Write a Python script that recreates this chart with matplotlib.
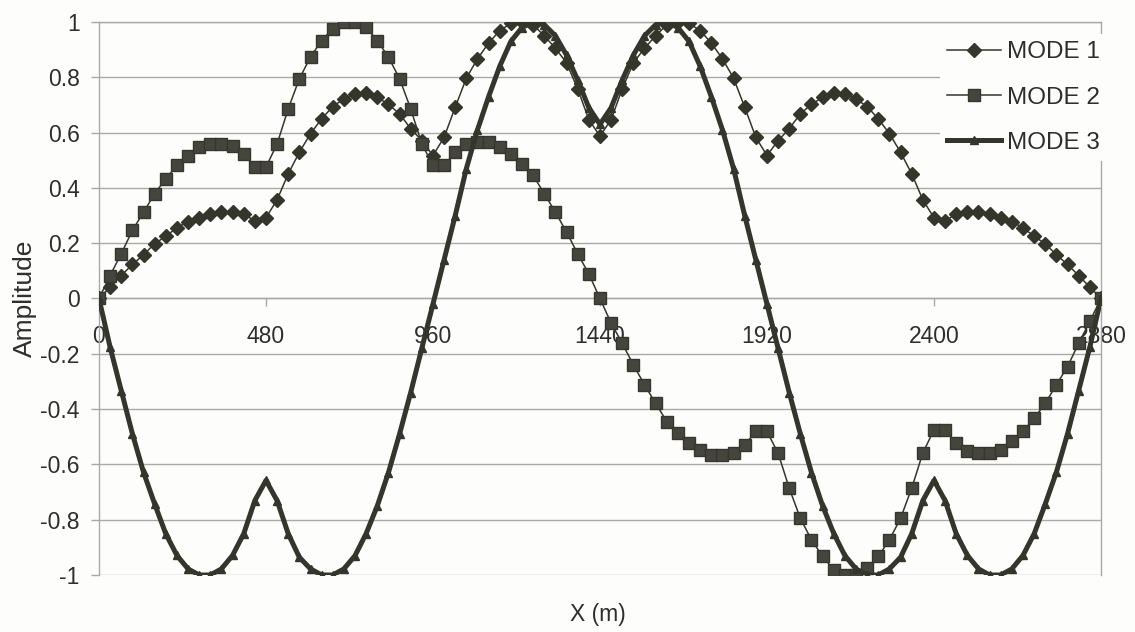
import numpy as np
import matplotlib.pyplot as plt

plt.rcParams['font.family'] = ['Liberation Sans', 'DejaVu Sans']

# stations along the deck, every 32 m
x_m = np.arange(0, 2881, 32)

mode1 = [0, 0.041, 0.083, 0.123, 0.158, 0.198, 0.225, 0.256, 0.278, 0.292,
         0.306, 0.312, 0.312, 0.306, 0.280, 0.292, 0.357, 0.451, 0.529, 0.596,
         0.650, 0.694, 0.722, 0.740, 0.743, 0.728, 0.702, 0.668, 0.614, 0.571,
         0.517, 0.583, 0.692, 0.797, 0.867, 0.924, 0.969, 0.995, 1.0, 0.99,
         0.95, 0.905, 0.852, 0.758, 0.647, 0.587,
         0.647, 0.758, 0.852, 0.905, 0.95, 0.99, 1.0, 0.995, 0.969, 0.924,
         0.867, 0.797, 0.692, 0.583, 0.517, 0.571, 0.614, 0.668, 0.702, 0.728,
         0.743, 0.740, 0.722, 0.694, 0.650, 0.596, 0.529, 0.451, 0.357, 0.292,
         0.280, 0.306, 0.312, 0.312, 0.306, 0.292, 0.278, 0.256, 0.225, 0.198,
         0.158, 0.123, 0.083, 0.041, 0]

mode2 = [0, 0.083, 0.162, 0.246, 0.312, 0.379, 0.433, 0.481, 0.517, 0.547,
         0.559, 0.560, 0.553, 0.523, 0.475, 0.475, 0.559, 0.686, 0.795, 0.873,
         0.933, 0.976, 1.0, 1.0, 0.981, 0.933, 0.873, 0.795, 0.686, 0.559,
         0.481, 0.481, 0.529, 0.559, 0.565, 0.565, 0.547, 0.523, 0.487, 0.445,
         0.379, 0.312, 0.240, 0.162, 0.089, 0.0,
         -0.089, -0.162, -0.240, -0.312, -0.379, -0.445, -0.487, -0.523, -0.547, -0.565,
         -0.565, -0.559, -0.529, -0.481, -0.481, -0.559, -0.686, -0.795, -0.873, -0.933,
         -0.981, -1.0, -1.0, -0.976, -0.933, -0.873, -0.795, -0.686, -0.559, -0.475,
         -0.475, -0.523, -0.553, -0.560, -0.559, -0.547, -0.517, -0.481, -0.433, -0.379,
         -0.312, -0.246, -0.162, -0.083, 0]

mode3 = [0, -0.176, -0.333, -0.489, -0.628, -0.743, -0.851, -0.929, -0.978, -1.0,
         -1.0, -0.978, -0.929, -0.851, -0.731, -0.658, -0.731, -0.851, -0.936, -0.978,
         -1.0, -1.0, -0.978, -0.93, -0.85, -0.75, -0.63, -0.49, -0.34, -0.18,
         -0.02, 0.14, 0.30, 0.47, 0.61, 0.73, 0.84, 0.93, 0.98, 1.0,
         0.99, 0.95, 0.88, 0.79, 0.69, 0.63,
         0.69, 0.79, 0.88, 0.95, 0.99, 1.0, 0.98, 0.93, 0.84, 0.73,
         0.61, 0.47, 0.30, 0.14, -0.02, -0.18, -0.34, -0.49, -0.63, -0.75,
         -0.85, -0.93, -0.978, -1.0, -1.0, -0.978, -0.936, -0.851, -0.731, -0.658,
         -0.731, -0.851, -0.929, -0.978, -1.0, -1.0, -0.978, -0.929, -0.851, -0.743,
         -0.628, -0.489, -0.333, -0.176, 0]

assert len(mode1) == len(mode2) == len(mode3) == len(x_m)

x_ticks = [0, 480, 960, 1440, 1920, 2400, 2880]
y_ticks = [-1, -0.8, -0.6, -0.4, -0.2, 0, 0.2, 0.4, 0.6, 0.8, 1]
y_labels = ['-1', '-0.8', '-0.6', '-0.4', '-0.2', '0', '0.2', '0.4', '0.6', '0.8', '1']

ink = '#34362c'
grid_col = '#a9a9a6'
txt = '#2e2e2e'

fig = plt.figure(figsize=(11.35, 6.32), dpi=100)
fig.patch.set_facecolor('#fdfdfb')
ax = fig.add_axes([0.0872, 0.0902, 0.8828, 0.875])
ax.set_facecolor('#fdfdfb')

ax.plot(x_m, mode1, color=ink, lw=1.1, marker='D', ms=7, mfc=ink, mec=ink,
        label='MODE 1', zorder=3)
ax.plot(x_m, mode2, color=ink, lw=1.1, marker='s', ms=8.5, mfc='#45453d', mec='#36362e',
        label='MODE 2', zorder=3)
ax.plot(x_m, mode3, color=ink, lw=3.6, marker='^', ms=6, mfc=ink, mec=ink,
        label='MODE 3', zorder=3)

ax.set_xlim(0, 2880)
ax.set_ylim(-1, 1)
ax.set_xticks(x_ticks)
ax.set_xticklabels([str(t) for t in x_ticks])
ax.set_yticks(y_ticks)
ax.set_yticklabels(y_labels)

ax.grid(axis='y', color=grid_col, lw=1.0)
ax.set_axisbelow(True)

for side in ['left', 'right', 'top', 'bottom']:
    ax.spines[side].set_color(grid_col)
    ax.spines[side].set_linewidth(1.0)
ax.spines['bottom'].set_position(('data', 0))

ax.tick_params(axis='x', direction='out', length=6, width=1, color=grid_col,
               pad=13, labelsize=16.5, labelcolor=txt)
ax.tick_params(axis='y', direction='out', length=6, width=1, color=grid_col,
               pad=8, labelsize=16.5, labelcolor=txt)

ax.set_xlabel('X (m)', fontsize=16.5, color=txt)
ax.xaxis.set_label_coords(0.498, -0.05)
ax.set_ylabel('Amplitude', fontsize=19, color=txt)
ax.yaxis.set_label_coords(-0.062, 0.5)

leg = ax.legend(loc='upper right', bbox_to_anchor=(1.006, 0.978), fontsize=17.5,
                frameon=True, framealpha=1, facecolor='#fdfdfb', edgecolor='none',
                handlelength=2.2, handletextpad=0.25, labelspacing=0.95,
                borderpad=0.3, borderaxespad=0)
for t in leg.get_texts():
    t.set_color(txt)

fig.savefig('out.png', dpi=100, facecolor=fig.get_facecolor())
